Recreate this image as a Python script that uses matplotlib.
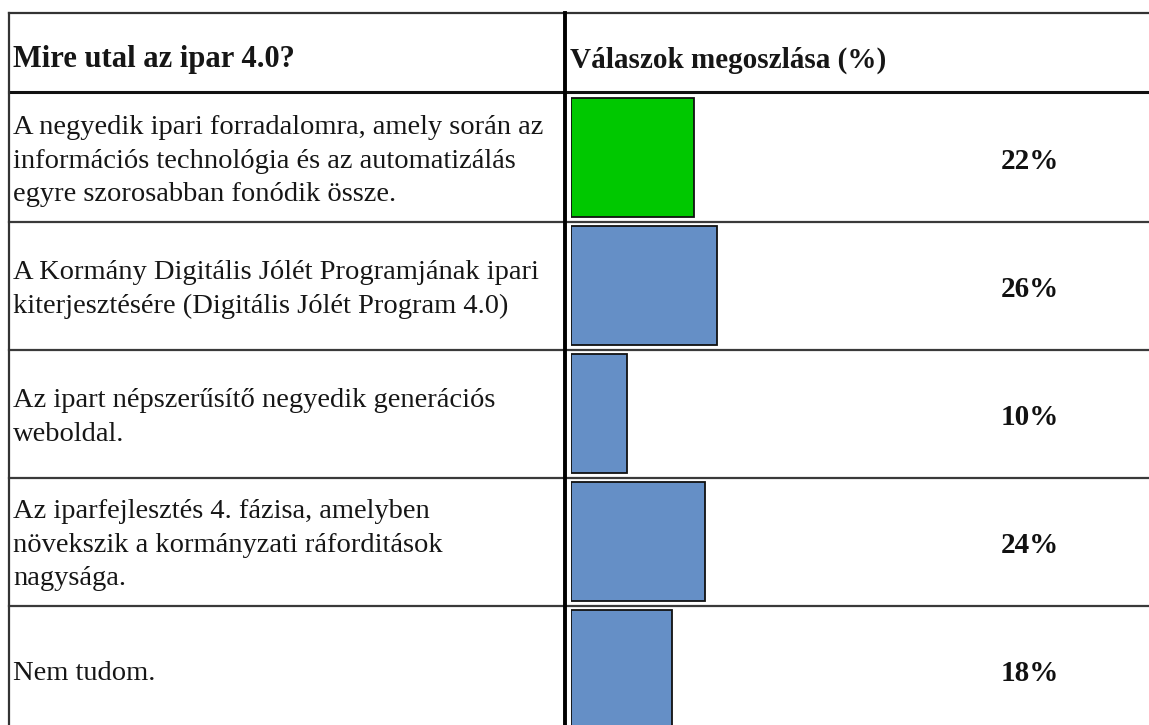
import matplotlib.pyplot as plt
import matplotlib.transforms as mtransforms

plt.rcParams['font.family'] = ['Liberation Serif', 'DejaVu Serif']

# Survey data
question = 'Mire utal az ipar 4.0?'
value_header = 'Válaszok megoszlása (%)'
answers = [
    'A negyedik ipari forradalomra, amely során az\ninformációs technológia és az automatizálás\negyre szorosabban fonódik össze.',
    'A Kormány Digitális Jólét Programjának ipari\nkiterjesztésére (Digitális Jólét Program 4.0)',
    'Az ipart népszerűsítő negyedik generációs\nweboldal.',
    'Az iparfejlesztés 4. fázisa, amelyben\nnövekszik a kormányzati ráforditások\nnagysága.',
    'Nem tudom.',
]
shares = [22, 26, 10, 24, 18]
bar_colors = ['#00c800', '#658fc6', '#658fc6', '#658fc6', '#658fc6']

W, H = 1149, 725
fig = plt.figure(figsize=(W / 100, H / 100), dpi=100)
fig.patch.set_facecolor('white')

# bar column: 0 % starts at x=571 px, ~5.6 px per percent
ax = fig.add_axes([571 / W, 0, (W - 571) / W, (H - 93) / H])
ax.patch.set_alpha(0)
ax.barh(range(len(shares)), shares, height=0.93, color=bar_colors,
        edgecolor='#111111', linewidth=1.3, zorder=3)
ax.set_xlim(0, (W - 571) / 5.6)
ax.set_ylim((H - 157.5) / 128, (93 - 157.5) / 128)
ax.axis('off')

# value labels
for i, v in enumerate(shares):
    ax.text(82, i + 0.03, f'{v}%', ha='center', va='center',
            fontsize=21, fontweight='bold', color='#111111')

# answer texts in the left column, rows follow the bar axis
row_tr = mtransforms.blended_transform_factory(fig.transFigure, ax.transData)
for i, a in enumerate(answers):
    ax.text(13 / W, i + 0.03, a, transform=row_tr, ha='left', va='center',
            fontsize=20.5, linespacing=1.45, color='#161616', clip_on=False)

# row separators
for i in range(len(answers) - 1):
    ax.plot([9 / W, 1], [i + 0.5, i + 0.5], transform=row_tr,
            color='#3a3a3a', lw=1.6, clip_on=False, zorder=2)

# table frame, header line and column divider
top_y = 1 - 13 / H
head_y = 1 - 92 / H
fig.add_artist(plt.Line2D([9 / W, 1], [top_y, top_y], color='#333333', lw=1.6))
fig.add_artist(plt.Line2D([9 / W, 1], [head_y, head_y], color='#111111', lw=2.2))
fig.add_artist(plt.Line2D([9 / W, 9 / W], [0, top_y], color='#333333', lw=1.6))
fig.add_artist(plt.Line2D([565 / W, 565 / W], [0, top_y], color='#000000', lw=2.8))

# header texts
head_mid = 1 - 60 / H
fig.text(13 / W, head_mid, question, ha='left', va='center',
         fontsize=22, fontweight='bold', color='#161616')
fig.text(570 / W, head_mid, value_header, ha='left', va='center',
         fontsize=21, fontweight='bold', color='#161616')

fig.savefig('out.png', dpi=100)
